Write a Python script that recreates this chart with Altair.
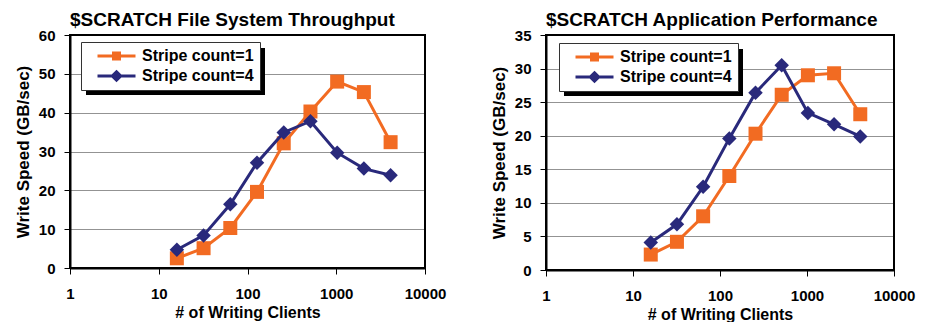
import altair as alt
import pandas as pd

clients = [16, 32, 64, 128, 256, 512, 1024, 2048, 4096]
series_names = ["Stripe count=1", "Stripe count=4"]
fs_stripe1 = [2.5, 5.1, 10.3, 19.6, 32.1, 40.3, 48.0, 45.3, 32.4]
fs_stripe4 = [4.7, 8.4, 16.4, 27.1, 34.9, 37.8, 29.7, 25.6, 23.9]
app_stripe1 = [2.3, 4.2, 8.0, 14.0, 20.3, 26.1, 29.0, 29.3, 23.2]
app_stripe4 = [4.1, 6.8, 12.4, 19.6, 26.4, 30.5, 23.4, 21.7, 19.9]
x_ticks = [1, 10, 100, 1000, 10000]
colors = ["#f26b22", "#29297b"]
FONT = "Liberation Sans"

# legend symbols: a line with a marker on it (unit coordinates of the symbol box)
sq_path = "M-0.64,0H0.88M0.0,-0.12H0.24V0.12H0.0Z"
dia_path = "M-0.64,0H0.88M0.12,-0.17L0.29,0L0.12,0.17L-0.05,0Z"


def make_df(s1, s4):
    rows = []
    for c, v in zip(clients, s1):
        rows.append({"clients": c, "speed": v, "series": series_names[0]})
    for c, v in zip(clients, s4):
        rows.append({"clients": c, "speed": v, "series": series_names[1]})
    return pd.DataFrame(rows)


def panel(title, df, ymax, ystep, w, h, lx, ly):
    x = alt.X(
        "clients:Q",
        scale=alt.Scale(type="log", domain=[1, 10000], nice=False),
        axis=alt.Axis(values=x_ticks, format="d", title="# of Writing Clients",
                      grid=False, labelFlush=False, labelPadding=12,
                      titlePadding=3, titleFontSize=16, labelOverlap=False),
    )
    y = alt.Y(
        "speed:Q",
        scale=alt.Scale(domain=[0, ymax], nice=False),
        axis=alt.Axis(values=list(range(0, ymax + 1, ystep)),
                      title="Write Speed (GB/sec)", grid=True,
                      labelPadding=9, titlePadding=6),
    )
    legend = alt.Legend(
        title=None, orient="none", legendX=lx, legendY=ly, direction="vertical",
        padding=6, symbolSize=2500, symbolStrokeWidth=3, symbolOpacity=1,
        labelFont=FONT, labelFontSize=16, labelFontWeight="bold", labelColor="black",
        labelOffset=2, clipHeight=16, rowPadding=4,
        fillColor="white", strokeColor="#333333",
    )
    fill_scale = alt.Scale(domain=series_names, range=colors)
    stroke_scale = alt.Scale(domain=series_names, range=colors)
    shape_scale = alt.Scale(domain=series_names, range=[sq_path, dia_path])

    s1 = alt.Chart(df).transform_filter(alt.datum.series == series_names[0])
    s4 = alt.Chart(df).transform_filter(alt.datum.series == series_names[1])

    line1 = s1.mark_line(strokeWidth=3).encode(
        x=x, y=y, stroke=alt.Stroke("series:N", scale=stroke_scale, legend=legend))
    pts1 = s1.mark_point(shape="square", filled=True, size=196, opacity=1).encode(
        x=x, y=y, fill=alt.Fill("series:N", scale=fill_scale, legend=legend))
    line4 = s4.mark_line(strokeWidth=3).encode(
        x=x, y=y, stroke=alt.Stroke("series:N", scale=stroke_scale, legend=legend))
    pts4 = s4.mark_point(shape="diamond", filled=True, size=210, opacity=1).encode(
        x=x, y=y, fill=alt.Fill("series:N", scale=fill_scale, legend=legend))
    leg = alt.Chart(df).transform_filter("false").mark_point(
        filled=True, opacity=1, strokeWidth=3).encode(
        x=x, y=y,
        shape=alt.Shape("series:N", scale=shape_scale, legend=legend),
        fill=alt.Fill("series:N", scale=fill_scale, legend=legend),
        stroke=alt.Stroke("series:N", scale=stroke_scale, legend=legend),
    )
    shadow = alt.Chart(pd.DataFrame({"k": [0]})).mark_rect(color="black").encode(
        x=alt.value(lx + 5), x2=alt.value(lx + 184),
        y=alt.value(ly + 6), y2=alt.value(ly + 53),
    )
    return alt.layer(shadow, line1, pts1, line4, pts4, leg).properties(
        width=w, height=h,
        title=alt.TitleParams(text=title, anchor="start", frame="group",
                              fontSize=19, font=FONT, fontWeight="bold",
                              color="black", offset=-2),
    )


left = panel("$SCRATCH File System Throughput", make_df(fs_stripe1, fs_stripe4),
             60, 10, 355, 233, 11, 7)
right = panel("$SCRATCH Application Performance", make_df(app_stripe1, app_stripe4),
              35, 5, 348, 235, 13, 8)

chart = alt.hconcat(left, right, spacing=42).resolve_scale(
    fill="independent", stroke="independent", shape="independent"
).resolve_legend(
    fill="independent", stroke="independent", shape="independent"
).properties(
    padding={"left": 5, "top": 2, "right": 5, "bottom": 0},
    background="white",
).configure_view(
    stroke="black", strokeWidth=2
).configure_axis(
    labelFont=FONT, labelFontSize=15, labelFontWeight="bold", labelColor="black",
    titleFont=FONT, titleFontSize=17, titleFontWeight="bold", titleColor="black",
    domainColor="black", domainWidth=2, tickColor="black", tickWidth=1, tickSize=6,
    gridColor="black", gridDash=[1, 1], gridWidth=1, gridOpacity=0.85,
)

chart.save("out.html", embed_options={"renderer": "svg", "actions": False})
